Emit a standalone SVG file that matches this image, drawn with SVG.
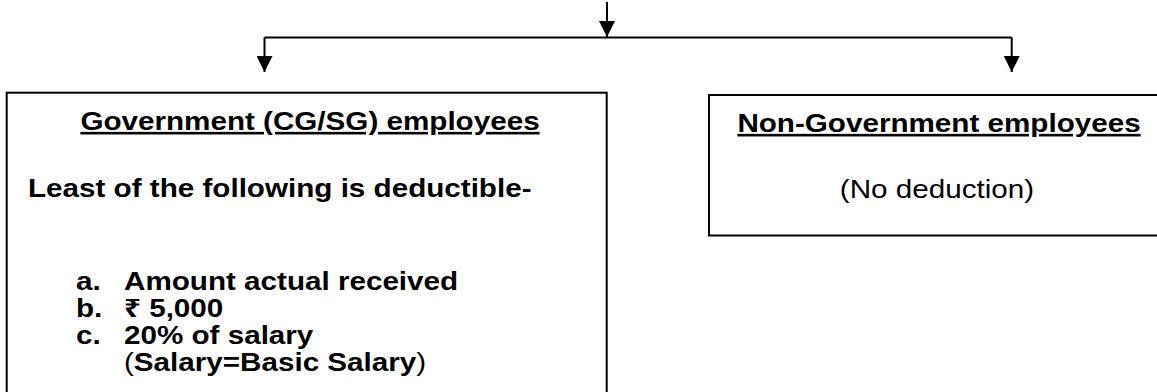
<svg xmlns="http://www.w3.org/2000/svg" width="1157" height="392" viewBox="0 0 1157 392">
<style>
  .box { fill: #fff; stroke: #000; stroke-width: 2; }
  .conn { fill: none; stroke: #000; stroke-width: 2; }
  text { font-family: "Liberation Sans", Arial, "Noto Sans", "DejaVu Sans", sans-serif; font-size: 26px; fill: #000; }
  .b { font-weight: bold; }
  .r { font-weight: normal; }
  .u { text-decoration: underline; }
</style>
<defs>
  <marker id="ah" markerUnits="userSpaceOnUse" markerWidth="16" markerHeight="16" refX="16" refY="8" orient="auto">
    <path d="M0,0 L16,8 L0,16 z" fill="#000"/>
  </marker>
</defs>
<rect width="1157" height="392" fill="#fff"/>
<g id="connectors">
  <path class="conn" d="M607,2 V37" marker-end="url(#ah)"/>
  <path class="conn" d="M264.5,37.5 H1011.7"/>
  <path class="conn" d="M264.5,37.5 V72" marker-end="url(#ah)"/>
  <path class="conn" d="M1011.7,37.5 V72" marker-end="url(#ah)"/>
</g>
<g id="gov">
  <rect class="box" x="6.7" y="92.7" width="600" height="320"/>
  <text class="b u" text-anchor="middle" transform="translate(310,130) scale(1.14,1)">Government (CG/SG) employees</text>
  <text class="b" transform="translate(28,197) scale(1.14,1)">Least of the following is deductible-</text>
  <text class="b" transform="translate(76,290) scale(1.14,1)">a.</text>
  <text class="b" transform="translate(124,290) scale(1.14,1)">Amount actual received</text>
  <text class="b" transform="translate(76,317) scale(1.14,1)">b.</text>
  <text class="b" transform="translate(124,317) scale(1.14,1)">₹ 5,000</text>
  <text class="b" transform="translate(76,344) scale(1.14,1)">c.</text>
  <text class="b" transform="translate(124,344) scale(1.14,1)">20% of salary</text>
  <text transform="translate(124,371) scale(1.14,1)"><tspan class="r">(</tspan><tspan class="b">Salary=Basic Salary</tspan><tspan class="r">)</tspan></text>
</g>
<g id="nongov">
  <rect class="box" x="709" y="95" width="460" height="140.5"/>
  <text class="b u" text-anchor="middle" transform="translate(939,132) scale(1.14,1)">Non-Government employees</text>
  <text class="r" text-anchor="middle" transform="translate(937,198) scale(1.14,1)">(No deduction)</text>
</g>
</svg>
